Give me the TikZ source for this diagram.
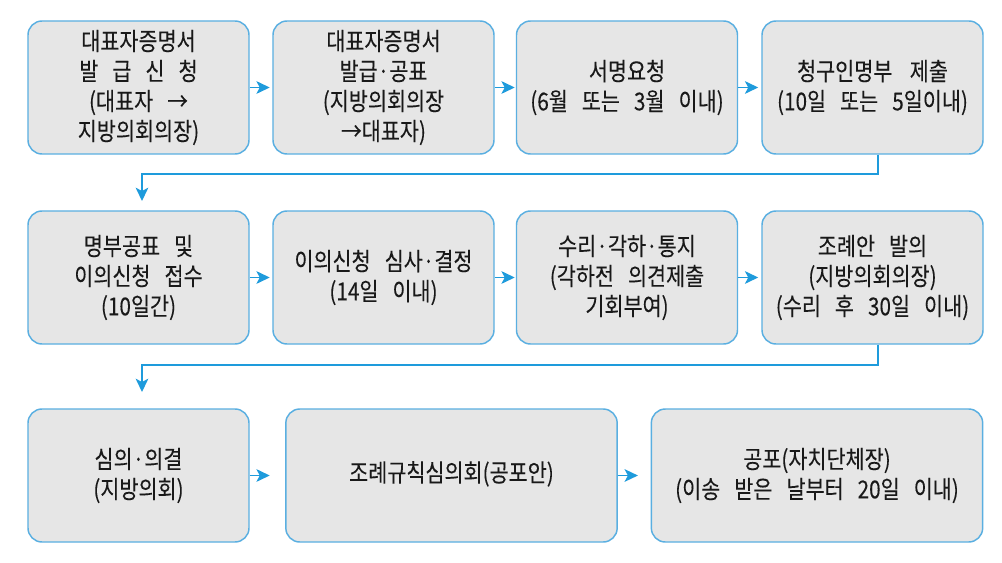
\documentclass[tikz,border=0pt]{standalone}
\usepackage{fontspec}
\setmainfont{Noto Sans CJK KR}[FakeStretch=0.84,FakeBold=0.1]
\usetikzlibrary{arrows.meta}
\definecolor{boxborder}{RGB}{90,175,225}
\definecolor{boxfill}{RGB}{230,230,230}
\definecolor{arrowblue}{RGB}{30,155,220}
\definecolor{textcol}{RGB}{25,25,25}
\newcommand{\boxfont}{\fontsize{18.5pt}{22.5pt}\selectfont\spaceskip=10.5pt plus 1pt\relax}
\begin{document}
\begin{tikzpicture}[x=0.75pt,y=-0.75pt,
  stepbox/.style={draw=boxborder, line width=1.1pt, fill=boxfill,
    rounded corners=10.5pt, minimum width=165.75pt, minimum height=99.75pt,
    inner sep=0pt, align=center, text=textcol, font=\boxfont},
  widebox/.style={stepbox, minimum width=248.5pt},
  flow/.style={draw=arrowblue, line width=1.1pt,
    -{Stealth[length=10pt,width=9.5pt,inset=2.5pt]}}]
\useasboundingbox (0,0) rectangle (1002,563);
\fill[white] (0,0) rectangle (1002,563);
% row 1
\node[stepbox] (b1) at (138.5,87.5) {대표자증명서\\발 급 신 청\\(대표자 →\\지방의회의장)};
\node[stepbox] (b2) at (383.5,87.5) {대표자증명서\\발급·공표\\(지방의회의장\\→대표자)};
\node[stepbox] (b3) at (627,87.5) {서명요청\\(6월 또는 3월 이내)};
\node[stepbox] (b4) at (872.5,87.5) {청구인명부\hspace{13pt}제출\\(10일 또는 5일이내)};
% row 2
\node[stepbox] (b5) at (138.5,277.5) {명부공표 및\\이의신청 접수\\(10일간)};
\node[stepbox] (b6) at (383.5,277.5) {이의신청 심사·결정\\(14일 이내)};
\node[stepbox] (b7) at (627,277.5) {수리·각하·통지\\(각하전 의견제출\\기회부여)};
\node[stepbox] (b8) at (872.5,277.5) {조례안 발의\\(지방의회의장)\\(수리 후 30일 이내)};
% row 3
\node[stepbox] (b9) at (138.5,475.5) {심의·의결\\(지방의회)};
\node[widebox] (b10) at (451.5,475.5) {\raisebox{6pt}{조례규칙심의회(공포안)}};
\node[widebox] (b11) at (817,475.5) {공포(자치단체장)\\(이송 받은 날부터 20일 이내)};
% horizontal arrows
\draw[flow] (b1.east) -- +(20,0);
\draw[flow] (b2.east) -- +(20,0);
\draw[flow] (b3.east) -- +(20,0);
\draw[flow] (b5.east) -- +(20,0);
\draw[flow] (b6.east) -- +(20,0);
\draw[flow] (b7.east) -- +(20,0);
\draw[flow] (b9.east) -- +(20,0);
\draw[flow] (b10.east) -- +(20,0);
% elbow connectors
\coordinate (k1) at (878,174);
\coordinate (k2) at (142,201);
\coordinate (k3) at (878,365);
\coordinate (k4) at (142,392);
\draw[flow] (b4.south -| k1) -- (k1) -| (k2);
\draw[flow] (b8.south -| k3) -- (k3) -| (k4);
\end{tikzpicture}
\end{document}
